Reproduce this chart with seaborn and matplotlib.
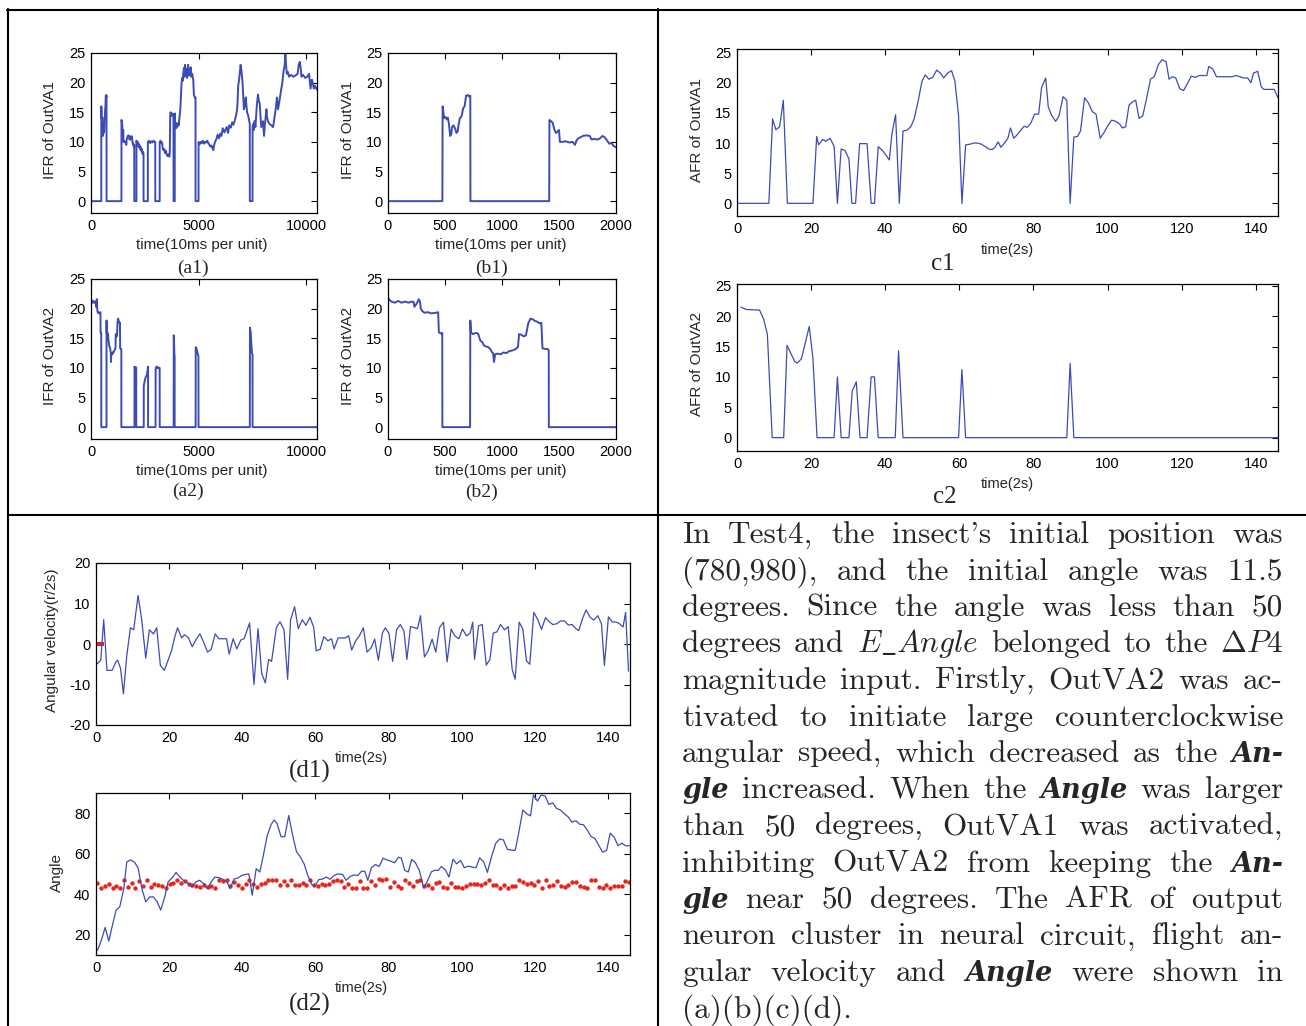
import numpy as np
import matplotlib
matplotlib.use("Agg")
import matplotlib.pyplot as plt
import seaborn as sns

sns.set_style("white")
plt.rcParams["font.family"] = ["Liberation Sans", "DejaVu Sans"]
plt.rcParams["axes.unicode_minus"] = False
plt.rcParams["mathtext.fontset"] = "cm"
plt.rcParams["axes.edgecolor"] = "black"
plt.rcParams["axes.linewidth"] = 0.9

W, H = 1306, 1026
BLUE = "#3c4cb4"
RED = "#e8241c"

# ---------------- data ----------------
b1_pts = [(0,0),(477,0),(479,16),(485,15.2),(492,14),(505,14.2),(515,13.8),(525,14.1),(535,13),(545,11),(555,11.3),
          (562,12.5),(575,12.8),(590,12.2),(600,11.5),(612,11.8),(620,13),(630,14),(645,14.3),(660,15.7),(672,16),
          (685,17.8),(700,17.9),(715,17.6),(722,17.8),(723,0),(1414,0),(1416,13.7),(1430,13.5),(1445,13.2),(1460,12),
          (1475,11.5),(1490,11.8),(1500,12),(1508,10),(1530,10),(1560,10.1),(1590,9.9),(1620,10),(1640,9.5),(1655,10.3),
          (1670,10.6),(1690,10.8),(1710,11),(1740,11.1),(1770,11),(1785,10.4),(1810,10.5),(1840,10.4),(1860,10.6),
          (1880,11),(1900,10.8),(1920,10.3),(1940,9.7),(1960,9.8),(1980,9.3),(2000,9.1)]

a1_late = [(2010,9.5),(2012,0),(2110,0),(2112,10.2),(2150,9.5),(2180,10),(2210,9.2),(2240,9.6),(2270,8.8),(2300,9.2),
           (2330,8.5),(2360,8.8),(2390,8),(2420,8.3),(2440,8),(2442,0),(2640,0),(2642,10),(2700,10.2),(2750,9.8),
           (2800,10.1),(2850,9.9),(2900,10.2),(2950,10),(2985,10),(2987,0),(3190,0),(3192,10),(3230,10.2),(3270,9.8),
           (3300,9.9),(3330,9),(3360,8.6),(3400,8.8),(3440,8.1),(3480,8.5),(3520,7.8),(3560,7.6),(3600,7.9),(3640,7.5),
           (3660,8.2),(3680,14.5),(3700,15),(3730,14.4),(3760,14.8),(3790,14.5),(3830,14.7),(3838,0),(3890,0),
           (3892,14.8),(3905,12.5),(3930,13),(3960,12.3),(3990,13.2),(4020,12.6),(4050,13),(4080,12.8),(4110,14.2),
           (4140,15),(4170,17),(4200,19.5),(4230,20.8),(4260,20.3),(4290,21.7),(4320,22.5),(4350,21),(4370,23),
           (4400,21.5),(4430,22.3),(4460,20.8),(4490,21.8),(4510,23),(4540,21.2),(4570,22),(4600,21.5),(4630,22.6),
           (4660,21),(4700,21.5),(4750,20.5),(4780,18),(4820,17.5),(4855,17.5),(4858,0),(4995,0),(4997,10),
           (5050,9.6),(5100,10),(5150,9.8),(5200,10.2),(5250,9.7),(5300,10),(5350,9.9),(5400,10.2),(5450,9.8),
           (5500,9.5),(5550,9.2),(5600,9.4),(5680,8.6),(5720,9.4),(5760,10),(5830,10.5),(5880,11.2),(5950,10.6),
           (6000,11.4),(6060,11),(6120,12.3),(6200,11.6),(6300,12.5),(6370,11.5),(6420,12.8),(6500,12.4),(6560,13.3),
           (6620,12.9),(6680,13.6),(6760,14.8),(6800,16),(6840,19.5),(6880,20.5),(6910,21.5),(6950,23),(6990,22),
           (7040,20),(7070,18),(7100,15.5),(7140,16),(7190,17.5),(7250,15),(7300,14.5),(7350,13.5),(7378,13),
           (7380,0),(7505,0),(7507,12.5),(7530,13),(7560,12),(7600,13.5),(7640,12.5),(7700,16),(7760,18),(7800,16.8),
           (7840,16.5),(7880,14),(7910,12.5),(7950,13),(7990,13.5),(8040,11),(8080,13),(8150,15.5),(8180,14.2),
           (8220,13.5),(8300,13),(8380,12.8),(8460,12.5),(8520,14),(8580,15.5),(8640,17.5),(8690,15.5),(8760,17),
           (8820,18.5),(8890,20),(8950,22),(9000,23),(9030,25),(9060,23),(9100,21.5),(9150,21.8),(9200,21),
           (9300,21.3),(9400,21),(9500,21.2),(9600,21.5),(9650,23),(9700,23.5),(9740,22.5),(9780,21),(9850,21.3),
           (9950,20.8),(10050,21),(10130,21.5),(10200,19),(10260,20.5),(10300,20),(10350,19),(10400,19.5),(10500,18.8)]

b2_pts = [(0,22),(10,21.5),(30,21.2),(60,21),(90,21.3),(120,21),(150,21.2),(180,21),(210,21.2),(225,21.1),(232,20.3),
          (250,20.8),(270,21.6),(280,21.2),(288,20),(300,19.6),(320,19.3),(350,19.4),(380,19.2),(420,19.3),(440,19.4),
          (446,16),(465,15.8),(476,15.9),(477,0),(720,0),(722,18),(728,16),(745,15.7),(770,15.9),(790,15.8),(800,15.2),
          (810,14.6),(830,14.3),(840,13.8),(860,13.6),(880,13.5),(900,13.1),(910,12.7),(922,12.5),(930,11),(940,12.3),
          (960,12.4),(990,12.3),(1010,12.6),(1040,12.5),(1060,12.8),(1080,12.9),(1100,13),(1120,13.2),(1140,13.5),
          (1150,15.7),(1170,15.6),(1190,15.3),(1210,15.5),(1230,17.5),(1250,18.3),(1270,18.2),(1290,17.9),(1310,17.8),
          (1330,17.5),(1345,17.6),(1355,13.3),(1380,13.2),(1400,13.2),(1410,13),(1411,0),(2000,0)]

a2_late = [(2020,0),(2022,10.2),(2060,9.8),(2090,10.1),(2100,10),(2102,0),(2450,0),(2452,7),(2480,7.5),(2520,8.2),
           (2560,8.6),(2600,8.8),(2640,10),(2650,10.2),(2652,0),(3000,0),(3002,9.8),(3040,10.2),(3080,10),(3120,10.1),
           (3160,9.9),(3190,10),(3192,0),(3840,0),(3845,15.5),(3860,14),(3875,12.3),(3885,12),(3887,0),(4860,0),
           (4865,13.5),(4900,13.3),(4950,12.5),(4990,12),(4995,0),(7380,0),(7385,16.8),(7420,16),(7450,14),
           (7480,12.5),(7505,12.2),(7507,0),(10500,0)]

c1_pts = [(0,0),(8.6,0),(9.6,14),(10.5,12.2),(11.5,12.7),(12.5,17.1),(13.6,0),(20.5,0),(21.5,11.1),(22,9.7),
          (23.1,10.6),(24,10.3),(25.1,10.8),(26.2,9.5),(27.1,0),(28.1,9),(29.1,8.8),(30.2,7.4),(31,0),(32,0),
          (33.1,9.9),(35.1,9.9),(36.2,0),(37.1,0),(38.1,9.4),(39.2,8.8),(40.2,8),(41.1,7.2),(41.8,11.5),(42.8,14.7),
          (43.8,0),(44.8,12),(45.8,12.1),(46.9,12.7),(47.8,14),(48.9,17),(49.9,20.2),(50.8,21.3),(51.8,20.6),
          (52.8,20.9),(53.9,22.1),(54.9,21.6),(55.8,20.8),(56.8,21.6),(57.9,22),(58.8,20.3),(59.8,14.5),(60.7,0),
          (61.7,9.7),(62.8,9.8),(63.9,10),(64.9,10),(66,9.8),(67,9.4),(68,9),(68.8,8.9),(69.6,9.3),(70.5,10.2),
          (71.2,9.3),(72.2,10),(73.1,10.8),(73.8,12.5),(74.7,10.8),(75.5,11.3),(76.4,12),(77.5,12.8),(78.3,12.6),
          (79.3,13.3),(80.3,14.8),(81.4,14.8),(82.2,19.2),(83.3,20.8),(84,16),(84.9,14.6),(86,13.6),(86.9,14.5),
          (88,17.7),(89,17.1),(89.9,0),(90.9,11),(91.9,11.1),(92.7,12),(93.8,17.5),(94.8,16.7),(95.9,15.2),
          (96.9,14.8),(98,10.8),(99,11.7),(100.1,12.9),(101.1,13.8),(102.2,13.6),(103.2,13.2),(104,12.5),
          (104.9,12.7),(105.8,16.3),(106.9,16.9),(107.6,17.1),(108.5,14.1),(109.5,14.5),(110.5,17.3),(111.6,20.6),
          (112.6,21),(113.7,23),(114.7,23.8),(115.8,23.5),(116.6,20.6),(117.5,21),(118.4,20.8),(119.5,19),
          (120.5,18.7),(121.6,19.9),(122.6,21.1),(123.7,20.9),(124.7,21.2),(126.8,21.2),(127.3,22.7),(128.4,22.3),
          (129.4,21),(133.6,21),(134.7,21.2),(136.8,20.8),(137.8,20.8),(138.7,20),(139.4,21.6),(140.5,21.9),
          (141.5,19.3),(142.2,18.9),(145,18.9),(146,17.5)]

c2_pts = [(1,21.5),(2.5,21.1),(6.1,21),(7.2,19.5),(8.2,17),(9.5,0),(12.6,0),(13.5,15.2),(15.6,12.5),(16.3,12.3),
          (17.4,13),(19.5,18.3),(20.5,13),(21.6,0),(26.2,0),(27.1,10),(28.1,0),(30.2,0),(31.1,7.7),(32.2,9.2),
          (33.2,0),(35.1,0),(36.2,10),(37.1,10),(38.1,0),(42.7,0),(43.6,14.3),(44.8,0),(59.8,0),(60.7,11.2),
          (61.7,0),(89,0),(89.9,12.2),(90.9,0),(146,0)]

d1_pts = [(0.2,-5),(1.3,-4),(2.1,6),(3.0,-6.5),(4.4,-6.5),(5.4,-4.5),(5.9,-4),(6.7,-6),(7.5,-12.3),(8.4,-3),(9.4,4),
          (10.3,3.5),(11.5,12),(12.5,6),(13.6,-3.5),(14.6,3.5),(15.7,2.5),(16.6,4),(17.6,-5.3),(18.7,-6.5),
          (19.5,-4.5),(20.7,-1.5),(21.6,2),(22.3,4),(23.4,1.5),(24.2,2.3),(25.3,1.5),(26.3,-0.7),(27.3,1),
          (28.4,2.5),(29.4,0.5),(30.5,-2),(31.5,-1.3),(32.6,2.5),(33.6,1.3),(35.7,1.3),(36.4,-2.5),(37.5,1.3),
          (38.5,-1.2),(39.6,1),(40.5,1.3),(42,5.2),(43.2,-10),(44.3,3.8),(45.3,-7.3),(46.3,-9.6),(47.2,-3.8),
          (48,-4.3),(49.3,4),(50.3,5.5),(51.4,3.5),(52.4,-8.7),(53.2,6),(54.3,9.2),(55.3,3.8),(56.4,6),(57.4,4.6),
          (58.5,6.6),(59.5,4.2),(60.2,-1.7),(61.3,-1.3),(62.3,1.8),(63.4,0.8),(64.4,1.3),(65.1,-1.2),(66.2,1.5),
          (68.1,1.5),(69.1,2),(69.9,-1.5),(71,0.8),(72,2),(73.1,4),(74.1,-2),(75.2,-1),(76.2,1.2),(77.2,-4),
          (78.3,2.7),(79.1,4),(80.1,2.6),(81.1,-4.3),(82.2,3.6),(83.2,4.8),(84.2,3.2),(85,-3.8),(86,4.3),(87.1,4),
          (87.9,3.8),(88.7,7),(89.8,-3.2),(90.8,-1.7),(91.9,1.2),(92.9,-2),(93.9,4),(95,5.4),(96,-4.4),(97.1,3.7),
          (98.1,2),(99.2,1.3),(100.2,3.7),(101.3,2),(102.3,2.7),(103,5.4),(103.5,-3.8),(104.6,4.5),(105.6,4.8),
          (106.7,-5.2),(107.7,-3.8),(108.6,2.7),(109.6,3),(110.6,4.8),(111.7,3.5),(112.7,4.3),(113.8,-6.3),
          (114.6,-8.7),(115.7,5.4),(116.7,3.7),(117.7,-4.2),(118.6,-5),(119.7,7.8),(120.8,6),(121.8,3.6),
          (122.9,6.5),(123.9,5.5),(124.9,4.8),(126,5),(127,5.7),(128.1,5.7),(129.1,4.7),(130.2,4.8),(131.2,3.8),
          (132,3.3),(133.1,6.5),(134,8.4),(135.1,6.6),(136.1,5.9),(137.2,7),(138.2,5),(139,-5.3),(140.1,6.7),
          (141.1,5.5),(142.2,5.4),(143,5.1),(144.1,4.2),(144.8,7.8),(145.6,-6.7)]
d1_ref_x = [0.3, 1.0, 1.7]
d1_ref_y = [0, 0, 0]

d2_pts = [(0.4,12.3),(1.5,17.5),(2.5,23.6),(3.5,16.9),(4.4,24),(5.5,32.2),(6.5,33.8),(7.6,42.8),(8.4,55.9),(9.4,57),
          (10.5,55.9),(11.5,53.1),(12.6,42.3),(13.6,36.3),(14.7,38.7),(15.7,38.7),(16.7,36.3),(17.7,32.2),
          (18.8,38.7),(19.7,46.1),(21,48.5),(21.9,50.8),(22.9,48.5),(23.9,46.9),(25.2,45.3),(26.2,43.6),(27.3,46.1),
          (28.3,46.9),(29.4,45.3),(30.4,42.8),(31.5,46.1),(32.5,48.5),(33.6,48.2),(34.6,47.5),(35.7,46.4),
          (36.7,42.8),(37.7,47.5),(38.7,48),(39.8,49.2),(40.8,49.8),(41.8,50),(42.7,39.5),(43.8,52.6),(44.8,51),
          (45.8,59.6),(46.8,68.9),(47.9,74.5),(48.7,76.7),(49.5,74.9),(50.6,68.4),(51.6,68.4),(52.7,78.9),
          (53.7,69.7),(54.8,61.1),(55.8,58.6),(56.9,55),(57.9,49.3),(59,44.8),(59.8,44),(60.9,47.2),(61.9,47.5),
          (63,48.5),(64,47.4),(65.1,49.3),(66.1,50),(67.4,49.8),(68.4,46.9),(69.5,48.8),(70.5,49.5),(71.6,49.3),
          (72.6,51.4),(73.5,51.3),(74.3,46.9),(75.3,53.1),(76.4,54.7),(77.4,53.7),(78.5,57.8),(79.5,57),(80.6,56.3),
          (81.6,55.5),(82.7,58.3),(83.5,57.8),(84.4,51.8),(85.4,51),(86.3,57.2),(87.3,55.7),(88.4,51.8),(89.6,43.1),
          (90.7,46.9),(91.7,51.1),(92.6,51.8),(93.6,51.8),(94.4,53.7),(95.5,52.1),(96.5,48.5),(97.6,57.3),(98.6,55),
          (99.7,56.7),(100.7,53.1),(101.8,53.9),(102.8,53.4),(103.9,53.1),(104.9,58),(106,56),(107,50.8),(108.1,58.3),
          (109.3,65.2),(110.4,67.3),(111.4,66.8),(112.5,62.1),(113.5,61.9),(114.6,61.6),(115.6,70.5),(116.7,81.6),
          (117.7,79.8),(118.8,78.7),(119.6,89),(120.7,86),(121.7,89),(122.8,88.5),(123.8,84.4),(124.9,85.1),
          (125.9,82.4),(127,81.6),(128,79.8),(129.1,78.2),(130.1,75.6),(131.2,76.3),(132.2,74.6),(133.3,74.3),
          (134.3,71.7),(135.4,68.4),(136.4,67.6),(137.5,64),(138.5,60.8),(139.6,61.6),(140.6,70.2),(141.7,68.1),
          (142.7,64),(143.8,65.2),(144.8,63.9),(145.9,64)]

d2_ref = [45.5,43.3,44,45.3,43.3,44,43.3,46.9,43.6,45.4,43.3,46.6,44,46.9,43.8,45,44.5,44.2,42.9,45,45.8,47.2,45.6,
          46.5,45.2,44.4,44,43.8,44.5,43.6,44,43.2,46.9,46.5,46.9,44,46.2,44.5,43.3,45,46.9,45,43.6,45.2,45.4,46.9,
          46.9,46.9,44.5,46.6,44.5,46.9,44.5,44.8,45.7,44.5,47,44.5,44,45.3,44.8,45.3,46.4,47.2,46.5,43.6,45,42.9,
          43.3,46.4,42.9,43.3,46.6,44.5,47.3,46.9,47.3,43.6,46.2,44.2,42.9,47.2,45.4,44,46.5,46.9,44.2,44.8,43.3,
          45.8,46.2,43.6,43.2,45.4,43.6,43.6,43.3,44,45.2,45.2,45,44.6,45.5,47,44.5,44.5,43.3,44.5,42.9,44.2,44.2,
          47,46.2,45,45.5,44.5,46.6,43.3,46.9,44.2,44.6,46.6,44,43.6,44.5,46.2,46.2,44,43.6,43.3,47.2,46.9,43.6,
          43.3,44.5,43.3,44,44,44,46.6,46.2]
d2_ref_t = np.linspace(0.4, 145.8, len(d2_ref))

a1_pts = b1_pts + a1_late
a2_pts = b2_pts + a2_late

para_lines = [
    "In Test4, the insect's initial position was",
    "(780,980), and the initial angle was 11.5",
    "degrees. Since the angle was less than 50",
    r"degrees and $E\_Angle$ belonged to the $\Delta{P}4$",
    "magnitude input. Firstly, OutVA2 was ac-",
    "tivated to initiate large counterclockwise",
    "angular speed, which decreased as the *An-*",
    "*gle* increased. When the *Angle* was larger",
    "than 50 degrees, OutVA1 was activated,",
    "inhibiting OutVA2 from keeping the *An-*",
    "*gle* near 50 degrees. The AFR of output",
    "neuron cluster in neural circuit, flight an-",
    "gular velocity and *Angle* were shown in",
    "(a)(b)(c)(d).",
]

# ---------------- figure ----------------
fig = plt.figure(figsize=(W / 100, H / 100), dpi=100)

def ax_at(l, t, r, b):
    return fig.add_axes([l / W, 1 - b / H, (r - l) / W, (b - t) / H])

def ftext(x, y, s, **kw):
    kw.setdefault("ha", "center")
    kw.setdefault("va", "center")
    return fig.text(x / W, 1 - y / H, s, **kw)

TICK_FS = 10.5
LAB_FS = 11

def style(ax, xlim, ylim, xt, yt):
    ax.set_xlim(*xlim)
    ax.set_ylim(*ylim)
    ax.set_xticks(xt)
    ax.set_yticks(yt)
    ax.tick_params(direction="in", length=4, width=0.8, top=True, right=True,
                   labelsize=TICK_FS, pad=4, colors="black")
    for s in ax.spines.values():
        s.set_visible(True)
        s.set_color("black")
        s.set_linewidth(0.9)
    ax.set_xlabel("")
    ax.set_ylabel("")
    if ax.get_legend():
        ax.get_legend().remove()

def line(ax, pts, lw=0.9):
    x, y = zip(*pts)
    sns.lineplot(x=list(x), y=list(y), ax=ax, sort=False, estimator=None,
                 color=BLUE, linewidth=lw)

# a1
ax = ax_at(91, 53, 317, 213)
line(ax, a1_pts, 1.4)
style(ax, (0, 10500), (-2, 25), [0, 5000, 10000], [0, 5, 10, 15, 20, 25])
ftext(202, 245, "time(10ms per unit)", fontsize=LAB_FS)
ftext(193, 268, "(a1)", fontsize=14, family="Liberation Serif")
ftext(50, 130, "IFR of OutVA1", fontsize=LAB_FS, rotation=90)

# b1
ax = ax_at(388, 53, 616, 213)
line(ax, b1_pts, 1.4)
style(ax, (0, 2000), (-2, 25), [0, 500, 1000, 1500, 2000], [0, 5, 10, 15, 20, 25])
ftext(501, 245, "time(10ms per unit)", fontsize=LAB_FS)
ftext(491, 268, "(b1)", fontsize=14, family="Liberation Serif")
ftext(348, 130, "IFR of OutVA1", fontsize=LAB_FS, rotation=90)

# a2
ax = ax_at(91, 279, 317, 439)
line(ax, a2_pts, 1.4)
style(ax, (0, 10500), (-2, 25), [0, 5000, 10000], [0, 5, 10, 15, 20, 25])
ftext(202, 471, "time(10ms per unit)", fontsize=LAB_FS)
ftext(188, 491, "(a2)", fontsize=14, family="Liberation Serif")
ftext(50, 356, "IFR of OutVA2", fontsize=LAB_FS, rotation=90)

# b2
ax = ax_at(388, 279, 616, 439)
line(ax, b2_pts, 1.4)
style(ax, (0, 2000), (-2, 25), [0, 500, 1000, 1500, 2000], [0, 5, 10, 15, 20, 25])
ftext(501, 471, "time(10ms per unit)", fontsize=LAB_FS)
ftext(481, 492, "(b2)", fontsize=14, family="Liberation Serif")
ftext(348, 356, "IFR of OutVA2", fontsize=LAB_FS, rotation=90)

# c1
ax = ax_at(737, 49, 1278, 216)
line(ax, c1_pts)
style(ax, (0, 146), (-2.1, 25.6), list(range(0, 141, 20)), [0, 5, 10, 15, 20, 25])
ftext(1007, 250, "time(2s)", fontsize=10.5)
ftext(943, 264, "c1", fontsize=18, family="Liberation Serif")
ftext(697, 130, "AFR of OutVA1", fontsize=LAB_FS, rotation=90)

# c2
ax = ax_at(737, 284, 1278, 451)
line(ax, c2_pts)
style(ax, (0, 146), (-2.2, 25.3), list(range(0, 141, 20)), [0, 5, 10, 15, 20, 25])
ftext(1007, 484, "time(2s)", fontsize=10.5)
ftext(945, 497, "c2", fontsize=18, family="Liberation Serif")
ftext(697, 364, "AFR of OutVA2", fontsize=LAB_FS, rotation=90)

# d1
ax = ax_at(96, 563, 630, 725)
line(ax, d1_pts)
sns.scatterplot(x=d1_ref_x, y=d1_ref_y, ax=ax, color=RED, s=10, linewidth=0, marker="s")
style(ax, (0, 146), (-20, 20), list(range(0, 141, 20)), [-20, -10, 0, 10, 20])
ftext(361, 758, "time(2s)", fontsize=10.5)
ftext(310, 771, "(d1)", fontsize=18, family="Liberation Serif")
ftext(52, 640, "Angular velocity(r/2s)", fontsize=LAB_FS, rotation=90)

# d2
ax = ax_at(96, 793, 630, 955)
line(ax, d2_pts)
sns.scatterplot(x=d2_ref_t, y=d2_ref, ax=ax, color=RED, s=10, linewidth=0)
style(ax, (0, 146), (10, 90), list(range(0, 141, 20)), [20, 40, 60, 80])
ftext(361, 988, "time(2s)", fontsize=10.5)
ftext(310, 1004, "(d2)", fontsize=18, family="Liberation Serif")
ftext(57, 873, "Angle", fontsize=LAB_FS, rotation=90)

# ---------------- table borders ----------------
from matplotlib.lines import Line2D
def fline(x0, y0, x1, y1):
    fig.add_artist(Line2D([x0 / W, x1 / W], [1 - y0 / H, 1 - y1 / H], color="black", linewidth=1.5,
                          transform=fig.transFigure))
fline(7, 10, 1306, 10)
fline(8, 9, 8, 1026)
fline(657.5, 9, 657.5, 1026)
fline(8, 514.5, 1306, 514.5)

# ---------------- paragraph ----------------
PFS = 22.5
X0, X1 = 682, 1283
Y0, DY = 543, 36.5
renderer = fig.canvas.get_renderer()
for i, ln in enumerate(para_lines):
    words = ln.split(" ")
    arts = []
    y = 1 - (Y0 + i * DY) / H
    for w in words:
        if w.startswith("*") and w.endswith("*"):
            t = fig.text(0, y, w.strip("*"), fontsize=PFS - 3, family="DejaVu Serif",
                         weight="bold", style="italic", va="baseline")
        else:
            t = fig.text(0, y, w, fontsize=PFS, family="cmr10", va="baseline")
        arts.append(t)
    widths = [a.get_window_extent(renderer).width for a in arts]
    if i == len(para_lines) - 1 or len(words) == 1:
        gap = PFS * 100 / 72 * 0.333
    else:
        gap = ((X1 - X0) - sum(widths)) / (len(words) - 1)
    x = X0
    for a, wd in zip(arts, widths):
        a.set_x(x / W)
        x += wd + gap

fig.savefig("out.png", dpi=100)
